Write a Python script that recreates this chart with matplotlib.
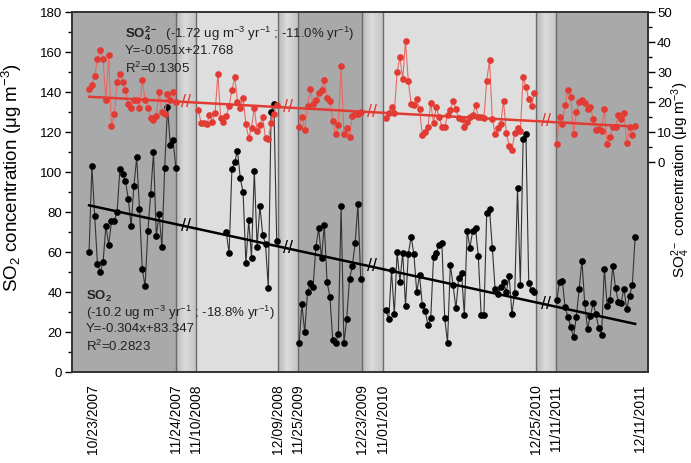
import numpy as np
import matplotlib
matplotlib.use("Agg")
import matplotlib.pyplot as plt
from matplotlib.ticker import MultipleLocator, FixedLocator

plt.rcParams['font.family'] = ['Liberation Sans', 'DejaVu Sans']
plt.rcParams['mathtext.fontset'] = 'custom'
plt.rcParams['mathtext.rm'] = 'Liberation Sans'
plt.rcParams['mathtext.bf'] = 'Liberation Sans:bold'
plt.rcParams['mathtext.it'] = 'Liberation Sans:italic'

# day index where each sampling campaign starts
so4_start = [0, 39, 75, 106, 167]
so2_start = [0, 49, 75, 106, 167]

# SO4 2- (right axis, ug m-3)
so4_1 = [24.3, 25.8, 28.7, 34.2, 37.5, 34.2, 20.7, 35.7, 12.0, 16.0, 26.7, 29.3, 26.7, 24.0, 19.3, 18.0,
         20.7, 20.7, 18.0, 27.3, 20.7, 18.0, 14.7, 14.0, 15.3, 23.3, 16.7, 16.0, 22.7, 20.7, 23.3, 20.0]
so4_2 = [17.4, 13.0, 13.0, 12.6, 15.6, 13.4, 16.4, 29.4, 14.8, 13.2, 15.2, 18.8, 23.9, 28.3, 20.1, 18.1,
         21.4, 12.6, 8.1, 11.2, 18.1, 10.3, 12.3, 14.9, 7.9, 7.7, 13.0, 16.0, 19.0]
so4_3 = [11.8, 15.0, 10.8, 18.8, 24.3, 19.4, 20.7, 23.1, 23.9, 27.2, 21.5, 20.2, 13.7, 9.4, 12.5, 31.9,
         9.4, 11.2, 8.5, 15.2, 16.1, 15.9, 16.6]
so4_4 = [14.8, 16.5, 18.5, 16.5, 30.0, 34.9, 27.6, 40.2, 27.0, 19.3, 19.1, 20.9, 17.6, 9.1, 10.0, 11.8,
         19.6, 13.1, 18.2, 14.9, 11.8, 11.6, 15.8, 17.3, 20.4, 17.8, 14.7, 14.5, 11.8, 13.3, 15.1, 15.6,
         18.9, 15.1, 15.1, 14.7, 27.1, 34.0, 14.4, 9.3, 11.3, 12.7, 20.4, 9.8, 5.3, 4.0, 9.6, 11.3,
         10.4, 28.2, 25.1, 20.9, 18.7, 23.1]
so4_5 = [6.0, 14.9, 12.7, 19.0, 24.0, 21.8, 9.3, 16.7, 20.1, 20.7, 19.6, 17.6, 18.4, 14.4, 10.7, 11.1,
         10.2, 17.8, 6.0, 8.4, 11.6, 11.8, 15.6, 14.2, 16.4, 6.4, 11.8, 9.1, 12.0]

# SO2 (left axis, ug m-3)
so2_1 = [60, 103, 78, 54, 50, 55, 73, 63.6, 75.3, 75.5, 80, 101.3, 98.8, 95.5, 86.5, 73, 93, 107.3,
         81.5, 51.3, 43, 70.7, 89, 109.8, 68, 79, 62.5, 102.2, 132.3, 113.5, 115.8, 101.8]
so2_2 = [69.8, 59.3, 101.5, 104.8, 110.7, 96.8, 89.8, 54.3, 75.8, 57.2, 100.7, 62.7, 83.2, 68.5, 64.2,
         42.2, 130.2, 133.8, 65.7]
so2_3 = [14.3, 33.8, 19.8, 39.8, 44.3, 42.7, 62.7, 71.8, 56.8, 73.5, 44.8, 37.7, 16.0, 14.3, 18.8, 83.2,
         14.3, 26.5, 46.5, 53.2, 64.3, 83.8, 46.5]
so2_4 = [31, 26.3, 51, 28.8, 60, 45.2, 59.7, 33, 59, 67.7, 58.8, 40, 48.3, 33.5, 30.7, 23.5, 26.8, 57.3,
         59.7, 63.5, 64.3, 26.8, 14.7, 53.7, 43.3, 31.8, 46.8, 49.7, 28.5, 70.7, 62.2, 70.7, 71.8, 58,
         28.7, 28.7, 79.7, 81.3, 62, 41.3, 39, 42.3, 45.2, 40, 48, 29, 39.7, 92.2, 43.5, 116.5, 118.8,
         44.3, 40.8, 39.8]
so2_5 = [36, 45.2, 45.7, 32.3, 27.7, 22.7, 17.3, 27.7, 41.3, 55.7, 34.3, 21.7, 28, 34.3, 29, 22, 18.3,
         51.7, 33.2, 36, 53, 42, 35.2, 34.7, 41.7, 31.3, 38, 43.7, 67.7]

so4_segs = [so4_1, so4_2, so4_3, so4_4, so4_5]
so2_segs = [so2_1, so2_2, so2_3, so2_4, so2_5]

tick_pos = [1.4, 31.0, 38.1, 67.4, 74.5, 97.6, 104.8, 159.5, 166.7, 196.8]
tick_labels = ['10/23/2007', '11/24/2007', '11/10/2008', '12/09/2008', '11/25/2009',
               '12/23/2009', '11/01/2010', '12/25/2010', '11/11/2011', '12/11/2011']

# gaps between campaigns
gaps = [(31.0, 38.1), (67.4, 74.5), (97.6, 104.8), (159.5, 166.7)]
xmin, xmax = -6.1, 199.6

dark = '#a9a9a9'
light = '#dedede'
red = '#e23b33'

fig = plt.figure(figsize=(6.91, 4.63), dpi=100)
ax = fig.add_axes([0.1042, 0.1965, 0.8336, 0.7775])

# background shading
edges = [xmin] + [g for pair in gaps for g in pair] + [xmax]
cols = [dark, light, dark, light, dark]
for i, c in enumerate(cols):
    ax.axvspan(edges[2 * i], edges[2 * i + 1], color=c, lw=0, zorder=0)
t = np.linspace(0, 1, 100)
prof = np.interp(t, [0, 0.45, 1], [0.72, 0.86, 0.77])
for g0, g1 in gaps:
    ax.imshow(prof[None, :], extent=[g0, g1, 0, 180], aspect='auto', cmap='gray',
              vmin=0, vmax=1, zorder=0.5)
    ax.axvline(g0, color='#6a6a6a', lw=1, zorder=1)
    ax.axvline(g1, color='#6a6a6a', lw=1, zorder=1)

# SO2 series
for x0, seg in zip(so2_start, so2_segs):
    xs = np.arange(x0, x0 + len(seg))
    ax.plot(xs, seg, '-', color='#333333', lw=0.8, zorder=3)
    ax.plot(xs, seg, 'o', color='black', ms=3.8, zorder=4)

xr = np.array([0, 195])
ax.plot(xr, 83.347 - 0.304 * xr, color='black', lw=1.8, zorder=5)

ax.set_xlim(xmin, xmax)
ax.set_ylim(0, 180)
ax.yaxis.set_major_locator(MultipleLocator(20))
ax.yaxis.set_minor_locator(MultipleLocator(10))
ax.tick_params(axis='y', which='major', length=5, width=1, labelsize=9.5, pad=2)
ax.tick_params(axis='y', which='minor', length=3, width=1)
ax.set_xticks(tick_pos)
ax.set_xticklabels(tick_labels, rotation=90, fontsize=10)
ax.tick_params(axis='x', length=0, pad=9)
ax.set_ylabel(r'SO$_2$ concentration ($\mathregular{\mu}$g m$^{-3}$)', fontsize=13.5)
ax.yaxis.set_label_coords(-0.083, 0.54)
for s in ax.spines.values():
    s.set_color('#333333')
    s.set_linewidth(1.2)

# SO4 series on right axis
ax2 = ax.twinx()
for x0, seg in zip(so4_start, so4_segs):
    xs = np.arange(x0, x0 + len(seg))
    ax2.plot(xs, seg, '-', color='#e86a62', lw=0.8, zorder=3)
    ax2.plot(xs, seg, 'o', color=red, ms=3.8, zorder=4)
ax2.plot(xr, 21.768 - 0.051 * xr, color=red, lw=1.8, zorder=5)
ax2.set_ylim(-70, 50)
ax2.yaxis.set_major_locator(FixedLocator([0, 10, 20, 30, 40, 50]))
ax2.yaxis.set_minor_locator(FixedLocator([5, 15, 25, 35, 45]))
ax2.tick_params(axis='y', which='major', length=5, width=1, labelsize=9.5, pad=1.5)
ax2.tick_params(axis='y', which='minor', length=3, width=1)
for s in ax2.spines.values():
    s.set_color('#333333')
    s.set_linewidth(1.2)
# right axis title placed by hand so it stays inside the canvas
fig.text(680.5 / 691, 1 - 180 / 463,
         r'SO$_4^{2-}$ concentration ($\mathregular{\mu}$g m$^{-3}$)',
         rotation=90, ha='center', va='center', fontsize=11)

# break marks on the trend lines
for g0, g1 in gaps:
    xb = (g0 + g1) / 2
    ax.text(xb, 83.347 - 0.304 * xb, '//', ha='center', va='center', fontsize=13,
            color='black', zorder=6)
    ax2.text(xb, 21.768 - 0.051 * xb, '//', ha='center', va='center', fontsize=13,
             color=red, zorder=6)

def ftext(px, py, s, **kw):
    fig.text(px / 691, 1 - py / 463, s, va='center', ha='left', fontsize=9.5, color='#222222', **kw)

ftext(125, 34, r'$\mathbf{SO_4^{2-}}$  (-1.72 ug m$^{-3}$ yr$^{-1}$ ; -11.0% yr$^{-1}$)')
ftext(125, 51, 'Y=-0.051x+21.768')
ftext(125, 68, r'R$^2$=0.1305')
ftext(86, 296, r'$\mathbf{SO_2}$')
ftext(86, 313, r'(-10.2 ug m$^{-3}$ yr$^{-1}$ ; -18.8% yr$^{-1}$)')
ftext(86, 329, 'Y=-0.304x+83.347')
ftext(86, 346, r'R$^2$=0.2823')

fig.savefig('out.png', dpi=100)
